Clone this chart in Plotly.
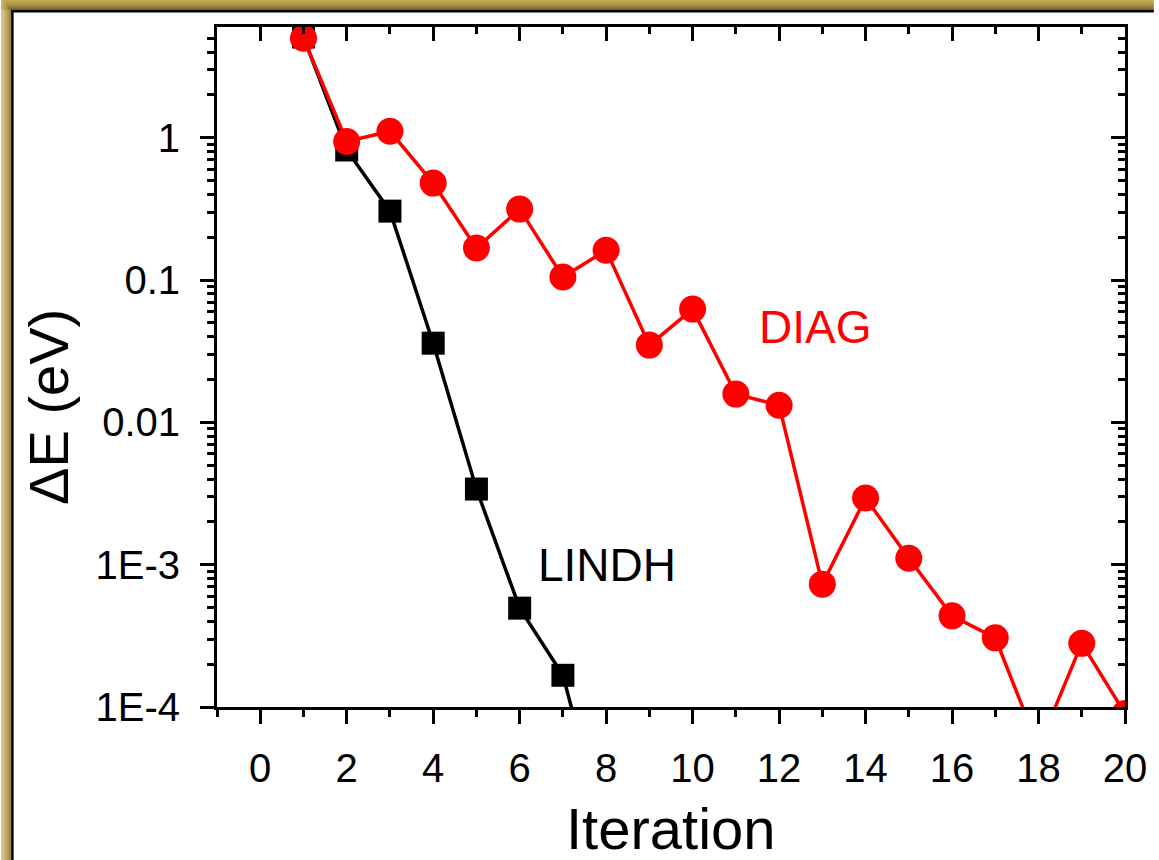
import plotly.graph_objects as go

# ---- data ----
iteration_lindh = [1, 2, 3, 4, 5, 6, 7, 8]
de_lindh = [5.1, 0.82, 0.305, 0.036, 0.0034, 4.95e-4, 1.67e-4, 1.2e-5]

iteration_diag = [1, 2, 3, 4, 5, 6, 7, 8, 9, 10, 11, 12, 13, 14, 15, 16, 17, 18, 19, 20]
de_diag = [5.0, 0.94, 1.11, 0.48, 0.168, 0.315, 0.105, 0.162, 0.0349, 0.0625,
           0.0158, 0.0132, 7.3e-4, 2.94e-3, 1.11e-3, 4.37e-4, 3.06e-4, 5.2e-5, 2.8e-4, 9e-5]

y_tickvals = [1e-4, 1e-3, 1e-2, 1e-1, 1]
y_ticktext = ["1E-4", "1E-3", "0.01", "0.1", "1"]
x_tickvals = list(range(0, 21, 2))

W, H = 1159, 860
L, R, T, B = 217, 1130, 27, 707
FONT = "Arial, Liberation Sans, sans-serif"

def px(xp):
    return (xp - L) / (R - L)

def py(yp):
    return (B - yp) / (B - T)

minor_y = [m * 10 ** e for e in range(-4, 1) for m in range(2, 10) if m * 10 ** e < 6.0]

fig = go.Figure()
fig.add_trace(go.Scatter(x=iteration_lindh, y=de_lindh, mode="lines+markers", name="LINDH",
                         xaxis="x", yaxis="y",
                         line=dict(color="black", width=3.5),
                         marker=dict(symbol="square", size=23, color="black")))
fig.add_trace(go.Scatter(x=iteration_diag, y=de_diag, mode="lines+markers", name="DIAG",
                         xaxis="x2", yaxis="y2",
                         line=dict(color="#ff0000", width=3.5),
                         marker=dict(symbol="circle", size=27, color="#ff0000")))

xr = [-1, 20]
yr = [-4, 0.778]
axis_common = dict(showgrid=False, zeroline=False, showline=True, linecolor="black", linewidth=3,
                   tickcolor="black", tickwidth=2.5)

fig.update_layout(
    width=W, height=H, autosize=False,
    margin=dict(l=L, r=W - R, t=T, b=H - B, pad=0),
    paper_bgcolor="white", plot_bgcolor="white",
    showlegend=False,
    font=dict(family=FONT, color="black"),
    xaxis=dict(range=xr, tickvals=x_tickvals, ticks="outside", ticklen=14,
               tickfont=dict(size=40, family=FONT), ticklabelstandoff=10,
               minor=dict(ticks="outside", ticklen=7, dtick=1, tick0=-1, tickcolor="black", tickwidth=2.5),
               **axis_common),
    yaxis=dict(type="log", range=yr, tickvals=y_tickvals, ticktext=y_ticktext, ticks="outside", ticklen=14,
               tickfont=dict(size=40, family=FONT), ticklabelstandoff=12,
               minor=dict(ticks="outside", ticklen=7, tickvals=minor_y, tickcolor="black", tickwidth=2.5),
               **axis_common),
    xaxis2=dict(range=xr, overlaying="x", side="top", anchor="y2", tickvals=x_tickvals, ticks="inside",
                ticklen=14, showticklabels=False,
                minor=dict(ticks="inside", ticklen=7, dtick=1, tick0=-1, tickcolor="black", tickwidth=2.5),
                **axis_common),
    yaxis2=dict(type="log", range=yr, overlaying="y", side="right", anchor="x2", tickvals=y_tickvals,
                ticks="inside", ticklen=14, showticklabels=False,
                minor=dict(ticks="inside", ticklen=7, tickvals=minor_y, tickcolor="black", tickwidth=2.5),
                **axis_common),
)

# annotations: series labels and axis titles
fig.add_annotation(x=12.82, y=-1.33, xref="x", yref="y", text="DIAG", showarrow=False,
                   font=dict(size=46, color="#ff0000", family=FONT))
fig.add_annotation(x=8.01, y=-3.003, xref="x", yref="y", text="LINDH", showarrow=False,
                   font=dict(size=46, color="black", family=FONT))
fig.add_annotation(x=px(674), y=py(828), xref="paper", yref="paper", text="Iteration", showarrow=False,
                   xanchor="center", yanchor="middle", font=dict(size=58, family=FONT))
fig.add_annotation(x=px(47), y=py(407), xref="paper", yref="paper", text="ΔE (eV)", showarrow=False,
                   textangle=-90, xanchor="center", yanchor="middle", font=dict(size=56, family=FONT))

# golden frame (simulated gradient with strips)
top_cols = ["#c2aa55", "#bea551", "#b9a04c", "#b39a47", "#ac9341", "#a48b3b", "#9a8235", "#8f7830",
            "#856e2b", "#7b6527"]
left_cols = ["#d4bf76", "#cfb96e", "#c9b266", "#c2ab5e", "#baa256", "#b1994e", "#a78f46", "#9d853f",
             "#937b38", "#897232"]
for i, c in enumerate(top_cols):
    fig.add_shape(type="rect", xref="paper", yref="paper", x0=px(0), x1=px(W), y0=py(i), y1=py(i + 1),
                  fillcolor=c, line=dict(width=0))
for i, c in enumerate(left_cols):
    fig.add_shape(type="rect", xref="paper", yref="paper", x0=px(i), x1=px(i + 1), y0=py(i), y1=py(H),
                  fillcolor=c, line=dict(width=0))
fig.add_shape(type="rect", xref="paper", yref="paper", x0=px(10), x1=px(W), y0=py(10), y1=py(12.5),
              fillcolor="black", line=dict(width=0))
fig.add_shape(type="rect", xref="paper", yref="paper", x0=px(10), x1=px(12.5), y0=py(10), y1=py(H),
              fillcolor="black", line=dict(width=0))

post = ("document.documentElement.style.overflow='hidden';"
        "document.body.style.margin='0';document.body.style.overflow='hidden';"
        "var g=document.getElementById('{plot_id}');"
        "g.style.position='fixed';g.style.left='0px';g.style.top='0px';")
fig.write_html("out.html", config={"displayModeBar": False, "responsive": False}, post_script=post)
